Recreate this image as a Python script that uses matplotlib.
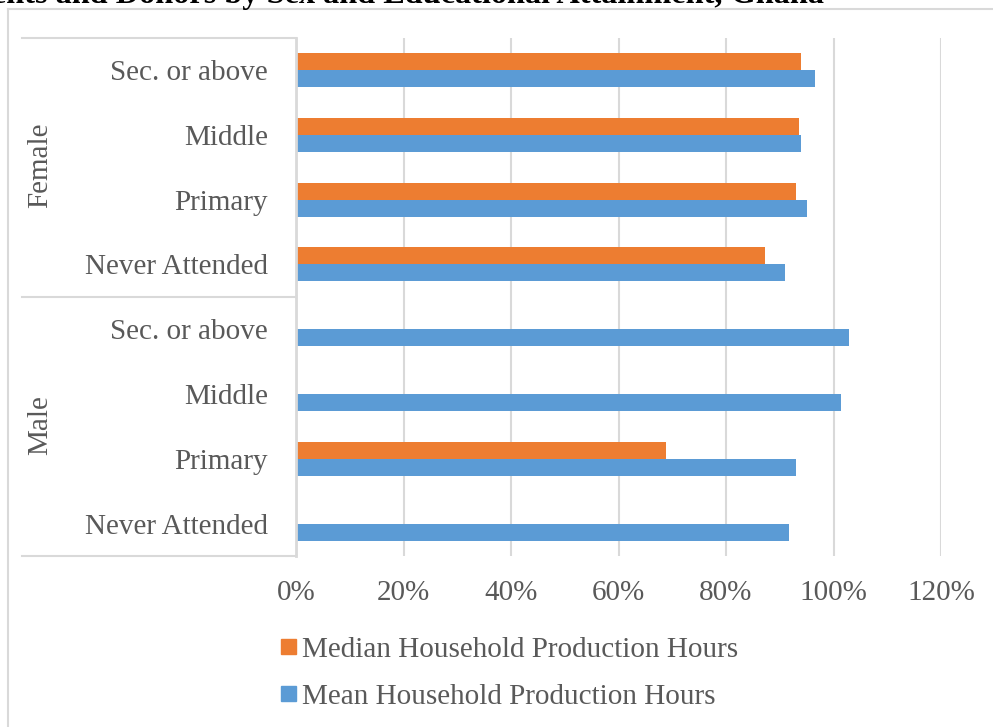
import matplotlib
matplotlib.use("Agg")
import matplotlib.pyplot as plt
from matplotlib.lines import Line2D
from matplotlib.patches import Patch
import numpy as np

# ---- data ----
categories = ["Sec. or above", "Middle", "Primary", "Never Attended",
              "Sec. or above", "Middle", "Primary", "Never Attended"]
groups = ["Female", "Male"]
median_hours = [0.94, 0.936, 0.93, 0.872, 0.0, 0.0, 0.688, 0.0]
mean_hours = [0.966, 0.94, 0.951, 0.91, 1.029, 1.014, 0.93, 0.918]
xticks = [0, 0.2, 0.4, 0.6, 0.8, 1.0, 1.2]
xticklabels = ["0%", "20%", "40%", "60%", "80%", "100%", "120%"]
series_names = ["Median Household Production Hours", "Mean Household Production Hours"]
title = "Percentage of Household Production Hours of Recipients and Donors by Sex and Educational Attainment, Ghana"

ORANGE = "#ED7D31"
BLUE = "#5B9BD5"
TXT = "#595959"
GRID = "#D9D9D9"

plt.rcParams['font.family'] = ['Liberation Serif', 'DejaVu Serif']

W, H = 993, 727
fig = plt.figure(figsize=(W / 100, H / 100), dpi=100)

def fx(px):
    return px / W

def fy(py):
    return 1 - py / H

ax_l, ax_r, ax_t, ax_b = 296, 941, 37.5, 556
ax = fig.add_axes([fx(ax_l), fy(ax_b), fx(ax_r - ax_l), (ax_b - ax_t) / H])

y = np.arange(len(categories))
bh = 0.262
ax.barh(y - bh / 2, median_hours, height=bh, color=ORANGE, label=series_names[0], zorder=3)
ax.barh(y + bh / 2, mean_hours, height=bh, color=BLUE, label=series_names[1], zorder=3)

ax.set_ylim(len(categories) - 0.5, -0.5)
ax.set_xlim(0, 1.2)
ax.set_yticks(y)
ax.set_yticklabels(categories, fontsize=21, color=TXT)
ax.set_xticks(xticks)
ax.set_xticklabels(xticklabels, fontsize=21, color=TXT)
ax.tick_params(axis='x', length=0, pad=17)
ax.tick_params(axis='y', length=0, pad=20)
ax.grid(axis='x', color=GRID, linewidth=1.5, zorder=0)
for s in ["top", "right", "bottom"]:
    ax.spines[s].set_visible(False)
ax.spines["left"].set_color(GRID)
ax.spines["left"].set_linewidth(2)
ax.spines["left"].set_zorder(4)

# group labels and category box lines
def hline(x0, x1, yy, lw=1.5):
    fig.add_artist(Line2D([fx(x0), fx(x1)], [fy(yy), fy(yy)], color=GRID, linewidth=lw))

def vline(xx, y0, y1, lw=1.5):
    fig.add_artist(Line2D([fx(xx), fx(xx)], [fy(y0), fy(y1)], color=GRID, linewidth=lw))

hline(22, 296, 37.5)
hline(22, 296, 296.5)
hline(22, 296, 556)

fig.text(fx(40), fy(165), groups[0], rotation=90, ha='center', va='center', fontsize=21, color=TXT)
fig.text(fx(40), fy(425), groups[1], rotation=90, ha='center', va='center', fontsize=21, color=TXT)

# outer chart frame
hline(8, 993, 9)
vline(8, 9, 727)

# title (clipped at the top edge as in the reference)
fig.text(fx(824), fy(2.5), title, ha='right', va='baseline', fontsize=23.2,
         fontweight='bold', color='black')

# legend
handles = [Patch(color=ORANGE), Patch(color=BLUE)]
fig.legend(handles, series_names, loc='upper left',
           bbox_to_anchor=(fx(281), fy(637)), bbox_transform=fig.transFigure,
           frameon=False, fontsize=21, labelcolor=TXT, borderpad=0, borderaxespad=0,
           handlelength=0.52, handleheight=0.45, handletextpad=0.2, labelspacing=0.72)

fig.savefig("out.png", dpi=100)
